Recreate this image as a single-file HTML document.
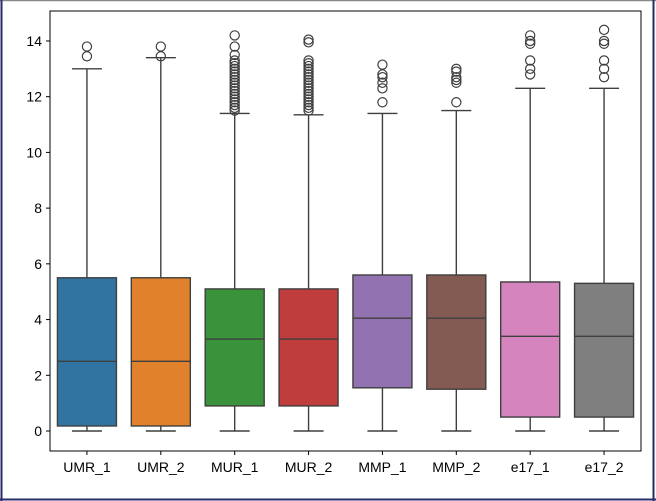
<!DOCTYPE html>
<html><head><meta charset="utf-8"><style>
html,body{margin:0;padding:0;background:#fff}
svg{display:block}
text{font-family:"Liberation Sans","DejaVu Sans",sans-serif;font-size:14px;fill:#000}
</style></head><body>
<svg id="s" width="656" height="501" xmlns="http://www.w3.org/2000/svg">
<rect x="0" y="0" width="656" height="501" fill="#fff"/>
<line x1="0" y1="0.5" x2="656" y2="0.5" stroke="#888" stroke-width="1.5"/>
<line x1="1.5" y1="0" x2="1.5" y2="501" stroke="#2a2a6a" stroke-width="2"/>
<line x1="0" y1="499.5" x2="656" y2="499.5" stroke="#2a2a6a" stroke-width="2"/>
<line x1="653.5" y1="0" x2="653.5" y2="501" stroke="#2a2a6a" stroke-width="2"/>
<g id="g"></g>
<rect x="50" y="11" width="591" height="440" fill="none" stroke="#000" stroke-width="1"/>
</svg>
<script>
var g=document.getElementById('g'),h='';
function Y(v){return 431-v*27.86;}
for(var t=0;t<=14;t+=2){var y=Y(t);h+='<line x1="46" x2="50" y1="'+y+'" y2="'+y+'" stroke="#000"/><text x="42" y="'+(y+5)+'" text-anchor="end">'+t+'</text>';}
function dense(a,b,s){var r=[];for(var v=a;v<=b;v+=s)r.push(v);return r;}
var D=[
['UMR_1','#3274a1',0.18,2.5,5.5,0,13.0,[13.45,13.8]],
['UMR_2','#e1812c',0.18,2.5,5.5,0,13.4,[13.45,13.8]],
['MUR_1','#3a923a',0.9,3.3,5.1,0,11.4,dense(11.5,13.3,0.1).concat([13.5,13.8,14.2])],
['MUR_2','#c03d3e',0.9,3.3,5.1,0,11.35,dense(11.5,13.3,0.1).concat([13.95,14.05])],
['MMP_1','#9372b2',1.55,4.05,5.6,0,11.4,[11.8,12.3,12.5,12.7,12.8,13.15]],
['MMP_2','#845b53',1.5,4.05,5.6,0,11.5,[11.8,12.5,12.6,12.7,12.9,13.0]],
['e17_1','#d684bd',0.5,3.4,5.35,0,12.3,[12.8,13.0,13.3,13.9,14.0,14.2]],
['e17_2','#7f7f7f',0.5,3.4,5.3,0,12.3,[12.7,13.0,13.3,13.9,14.0,14.4]]];
var L='#3f3f3f';
D.forEach(function(d,i){
 var c=50+36.94+73.875*i,w=59,x0=c-w/2;
 h+='<line x1="'+c+'" x2="'+c+'" y1="451" y2="455" stroke="#000"/><text x="'+c+'" y="472" text-anchor="middle">'+d[0]+'</text>';
 h+='<line x1="'+c+'" x2="'+c+'" y1="'+Y(d[2])+'" y2="'+Y(d[5])+'" stroke="'+L+'" stroke-width="1.4"/>';
 h+='<line x1="'+c+'" x2="'+c+'" y1="'+Y(d[4])+'" y2="'+Y(d[6])+'" stroke="'+L+'" stroke-width="1.4"/>';
 h+='<line x1="'+(c-15)+'" x2="'+(c+15)+'" y1="'+Y(d[5])+'" y2="'+Y(d[5])+'" stroke="'+L+'" stroke-width="1.4"/>';
 h+='<line x1="'+(c-15)+'" x2="'+(c+15)+'" y1="'+Y(d[6])+'" y2="'+Y(d[6])+'" stroke="'+L+'" stroke-width="1.4"/>';
 h+='<rect x="'+x0+'" y="'+Y(d[4])+'" width="'+w+'" height="'+(Y(d[2])-Y(d[4]))+'" fill="'+d[1]+'" stroke="'+L+'" stroke-width="1.4"/>';
 h+='<line x1="'+x0+'" x2="'+(x0+w)+'" y1="'+Y(d[3])+'" y2="'+Y(d[3])+'" stroke="'+L+'" stroke-width="1.4"/>';
 d[7].forEach(function(v){h+='<circle cx="'+c+'" cy="'+Y(v)+'" r="4.6" fill="none" stroke="'+L+'" stroke-width="1.2"/>';});
});
g.innerHTML=h;
</script>
</body></html>
